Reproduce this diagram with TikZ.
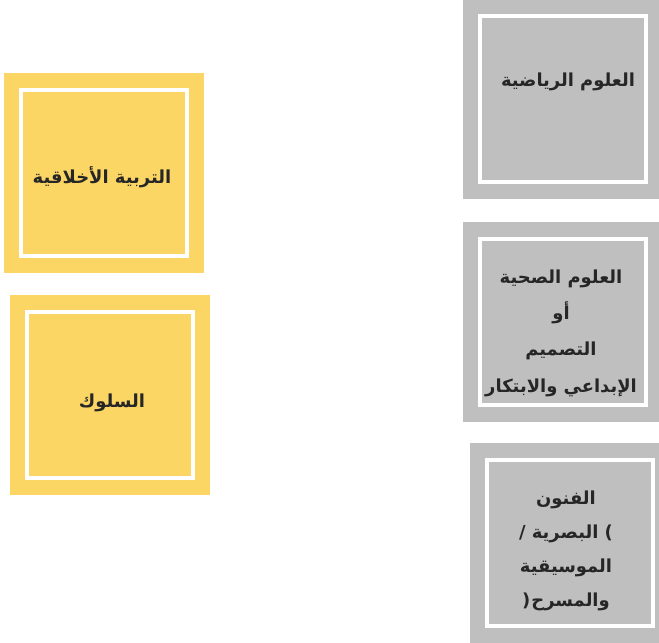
\documentclass[tikz,border=0pt]{standalone}
\usepackage{fontspec}
\newfontfamily\arabicfont[Script=Arabic]{DejaVu Sans}
\TeXXeTstate=1
\usepackage{xcolor}
\definecolor{jaune}{HTML}{FCD664}
\definecolor{gris}{HTML}{BFBFBF}
\definecolor{encre}{HTML}{262626}

\begin{document}
\begin{tikzpicture}[x=1bp,y=-1bp,
	carre/.style={minimum width=200bp, minimum height=200bp, inner sep=0pt, outer sep=0pt},
	cadre/.style={draw=white, line width=4bp, minimum width=166bp, minimum height=166bp, inner sep=0pt},
	mot/.style={text=encre, inner sep=0pt, align=center, font=\arabicfont\bfseries\fontsize{18}{36.5}\selectfont}]
	\useasboundingbox (0,0) rectangle (659,643);
	\clip (0,0) rectangle (659,643);
	% colonne de gauche
	\node [carre, fill=jaune] (akhlaq) at (104,173) {};
	\node [cadre] (akhlaqcadre) at (akhlaq) {};
	\node [mot] (akhlaqtexte) at (102,177) {\beginR التربية الأخلاقية\endR};
	\node [carre, fill=jaune] (suluk) at (110,395) {};
	\node [cadre] (sulukcadre) at (suluk) {};
	\node [mot] (suluktexte) at (112,403) {\beginR السلوك\endR};
	% colonne de droite
	\node [carre, fill=gris] (riyadiya) at (562.5,99) {};
	\node [cadre] (riyadiyacadre) at (riyadiya) {};
	\node [mot] (riyadiyatexte) at (568,82) {\beginR العلوم الرياضية\endR};
	\node [carre, fill=gris] (sihhiya) at (563,322) {};
	\node [cadre] (sihhiyacadre) at (sihhiya) {};
	\node [mot] (sihhiyatexte) at (561,333) {\beginR العلوم الصحية\endR\\ \beginR أو\endR\\ \beginR التصميم\endR\\ \beginR الإبداعي والابتكار\endR};
	\node [carre, fill=gris] (funun) at (570,543) {};
	\node [cadre] (fununcadre) at (funun) {};
	\node [mot, font=\arabicfont\bfseries\fontsize{18}{34}\selectfont] (fununtexte) at (566,551)
		{الفنون\\ /\ البصرية\ )\\ الموسيقية\\ (\kern1bp والمسرح};
\end{tikzpicture}
\end{document}
